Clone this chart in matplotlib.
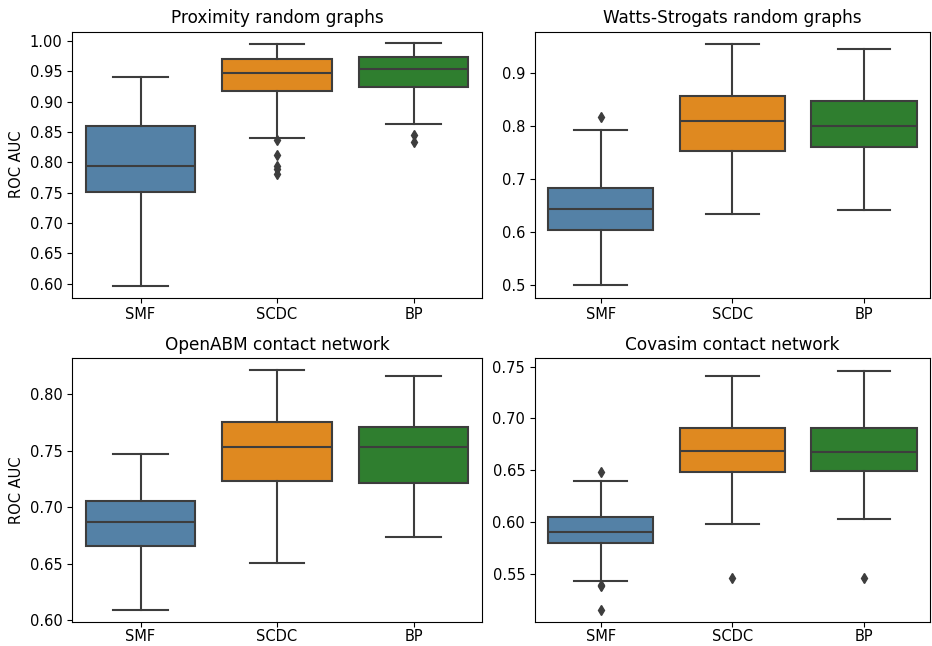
import matplotlib
matplotlib.use("Agg")
import matplotlib.pyplot as plt
from matplotlib.ticker import MultipleLocator

methods = ["SMF", "SCDC", "BP"]
colors = ["#5481A6", "#DF8920", "#2F7E2F"]
titles = ["Proximity random graphs", "Watts-Strogats random graphs",
          "OpenABM contact network", "Covasim contact network"]

# per panel: [SMF, SCDC, BP]
prox_whislo = [0.597, 0.840, 0.863]
prox_q1 = [0.751, 0.918, 0.924]
prox_med = [0.794, 0.947, 0.954]
prox_q3 = [0.859, 0.970, 0.974]
prox_whishi = [0.941, 0.994, 0.996]
prox_fliers = [[], [0.836, 0.812, 0.794, 0.789, 0.780], [0.845, 0.833]]

ws_whislo = [0.500, 0.634, 0.641]
ws_q1 = [0.604, 0.753, 0.761]
ws_med = [0.644, 0.809, 0.800]
ws_q3 = [0.683, 0.856, 0.847]
ws_whishi = [0.792, 0.954, 0.944]
ws_fliers = [[0.816], [], []]

abm_whislo = [0.609, 0.651, 0.674]
abm_q1 = [0.666, 0.723, 0.721]
abm_med = [0.687, 0.753, 0.753]
abm_q3 = [0.705, 0.775, 0.771]
abm_whishi = [0.747, 0.821, 0.816]
abm_fliers = [[], [], []]

cov_whislo = [0.543, 0.598, 0.603]
cov_q1 = [0.580, 0.648, 0.649]
cov_med = [0.591, 0.669, 0.668]
cov_q3 = [0.605, 0.691, 0.691]
cov_whishi = [0.640, 0.741, 0.746]
cov_fliers = [[0.648, 0.540, 0.539, 0.515], [0.546], [0.546]]

panels = [
    (prox_whislo, prox_q1, prox_med, prox_q3, prox_whishi, prox_fliers),
    (ws_whislo, ws_q1, ws_med, ws_q3, ws_whishi, ws_fliers),
    (abm_whislo, abm_q1, abm_med, abm_q3, abm_whishi, abm_fliers),
    (cov_whislo, cov_q1, cov_med, cov_q3, cov_whishi, cov_fliers),
]
ylims = [(0.577, 1.015), (0.477, 0.977), (0.5985, 0.8318), (0.5038, 0.7583)]
ysteps = [0.05, 0.1, 0.05, 0.05]
yfmts = ["{x:.2f}", "{x:.1f}", "{x:.2f}", "{x:.2f}"]
positions = [
    [0.0776, 0.5392, 0.4393, 0.4118],
    [0.574, 0.5392, 0.4238, 0.4118],
    [0.0776, 0.037, 0.4393, 0.409],
    [0.574, 0.037, 0.4238, 0.409],
]

fig = plt.figure(figsize=(9.32, 6.46), dpi=100)
line_col = "#3d3d3d"

for i, (lo, q1, med, q3, hi, fl) in enumerate(panels):
    ax = fig.add_axes(positions[i])
    stats = []
    for j in range(3):
        stats.append({"whislo": lo[j], "q1": q1[j], "med": med[j],
                      "q3": q3[j], "whishi": hi[j], "fliers": fl[j]})
    bp = ax.bxp(stats, positions=range(3), widths=0.8, patch_artist=True,
                showfliers=True,
                boxprops=dict(edgecolor=line_col, linewidth=1.5),
                medianprops=dict(color=line_col, linewidth=1.5),
                whiskerprops=dict(color=line_col, linewidth=1.5),
                capprops=dict(color=line_col, linewidth=1.5),
                capwidths=0.4,
                flierprops=dict(marker="d", markerfacecolor=line_col,
                                markeredgecolor=line_col, markersize=5))
    for patch, c in zip(bp["boxes"], colors):
        patch.set_facecolor(c)
    ax.set_xticks(range(3))
    ax.set_xticklabels(methods)
    ax.yaxis.set_major_locator(MultipleLocator(ysteps[i]))
    ax.yaxis.set_major_formatter(yfmts[i])
    ax.tick_params(labelsize=10.5)
    if i >= 2:
        ax.tick_params(axis="x", pad=1.5)
    ax.set_xlim(-0.5, 2.5)
    ax.set_ylim(ylims[i])
    ax.set_title(titles[i], fontsize=12.2)
    if i % 2 == 0:
        ax.set_ylabel("ROC AUC", fontsize=10.5)

fig.savefig("out.png", dpi=100)
